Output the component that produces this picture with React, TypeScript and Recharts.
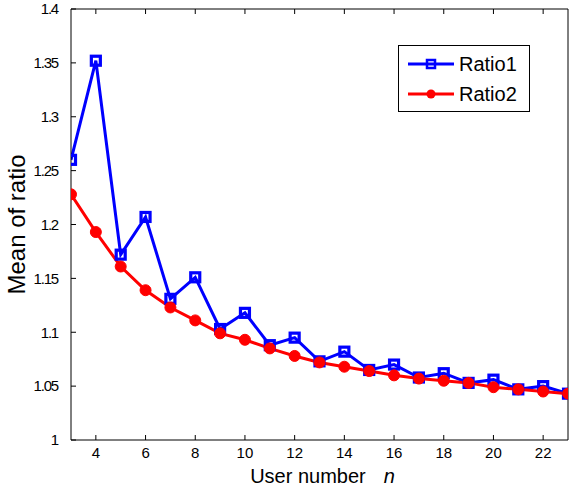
import React from 'react';
import { LineChart, Line, XAxis, YAxis, Legend, Label } from 'recharts';

// user count n
const users = [3, 4, 5, 6, 7, 8, 9, 10, 11, 12, 13, 14, 15, 16, 17, 18, 19, 20, 21, 22, 23];
const ratio1 = [
  1.26, 1.352, 1.172, 1.207, 1.131, 1.151, 1.103, 1.118, 1.088, 1.095, 1.073,
  1.082, 1.065, 1.07, 1.058, 1.062, 1.053, 1.056, 1.047, 1.05, 1.043,
];
const ratio2 = [
  1.228, 1.193, 1.161, 1.139, 1.123, 1.111, 1.099, 1.093, 1.085, 1.078, 1.072,
  1.068, 1.064, 1.06, 1.057, 1.055, 1.053, 1.049, 1.047, 1.045, 1.043,
];
const xTicks = [4, 6, 8, 10, 12, 14, 16, 18, 20, 22];
const yTicks = [1, 1.05, 1.1, 1.15, 1.2, 1.25, 1.3, 1.35, 1.4];

const BLUE = '#0000ff';
const RED = '#ff0000';
const FONT = '"Liberation Sans", Arial, sans-serif';

const data = users.map((n, i) => ({ n, ratio1: ratio1[i], ratio2: ratio2[i] }));

const fmt = (v: number) => String(+v.toFixed(2));

function SquareDot(props: any) {
  const { cx, cy } = props;
  if (cx == null || cy == null) return null;
  return <rect x={cx - 4.5} y={cy - 4.5} width={9} height={9} fill="none" stroke={BLUE} strokeWidth={3.2} />;
}

function CircleDot(props: any) {
  const { cx, cy } = props;
  if (cx == null || cy == null) return null;
  return <circle cx={cx} cy={cy} r={5.5} fill={RED} stroke={RED} strokeWidth={1} />;
}

function LegendBox() {
  const rows = [
    { name: 'Ratio1', color: BLUE, square: true },
    { name: 'Ratio2', color: RED, square: false },
  ];
  return (
    <div
      style={{
        border: '1px solid #000',
        background: '#fff',
        width: 132,
        height: 67,
        boxSizing: 'border-box',
        padding: '3px 0 0 9px',
        fontFamily: FONT,
        fontSize: 20,
        lineHeight: 1,
      }}
    >
      {rows.map((r) => (
        <div key={r.name} style={{ display: 'flex', alignItems: 'center', height: 30 }}>
          <svg width={46} height={14} style={{ marginRight: 5 }}>
            <line x1={0} y1={7} x2={46} y2={7} stroke={r.color} strokeWidth={3} />
            {r.square ? (
              <rect x={19} y={3} width={8} height={8} fill="none" stroke={r.color} strokeWidth={2.5} />
            ) : (
              <circle cx={23} cy={7} r={4.5} fill={r.color} />
            )}
          </svg>
          <span>{r.name}</span>
        </div>
      ))}
    </div>
  );
}

export default function App() {
  return (
    <div style={{ position: 'absolute', left: 0, top: 0, background: '#fff' }}>
      <LineChart width={570} height={493} data={data} margin={{ top: 8, right: 1, left: 0, bottom: 0 }}>
        <XAxis
          dataKey="n"
          type="number"
          domain={[3, 23]}
          ticks={xTicks}
          allowDataOverflow
          stroke="#000"
          tickSize={-5}
          tickMargin={12}
          height={53}
          tick={{ fill: '#000', fontSize: 15, fontFamily: FONT }}
        >
          <Label
            content={({ viewBox }: any) => (
              <text
                x={viewBox.x + viewBox.width / 2 + 3}
                y={viewBox.y + 43}
                textAnchor="middle"
                fontFamily={FONT}
                fontSize={20}
                fill="#000"
              >
                User number
                <tspan dx={18} fontStyle="italic">n</tspan>
              </text>
            )}
          />
        </XAxis>
        <XAxis
          xAxisId="top"
          orientation="top"
          dataKey="n"
          type="number"
          domain={[3, 23]}
          ticks={xTicks}
          stroke="#000"
          tickSize={-5}
          height={1}
          tickFormatter={() => ''}
        />
        <YAxis
          type="number"
          domain={[1, 1.4]}
          ticks={yTicks}
          allowDataOverflow
          stroke="#000"
          tickSize={-5}
          tickMargin={18}
          width={71}
          tickFormatter={fmt}
          tick={{ fill: '#000', fontSize: 15, fontFamily: FONT, letterSpacing: -1.2 }}
        >
          <Label
            content={({ viewBox }: any) => {
              const cx = 25;
              const cy = viewBox.y + viewBox.height / 2;
              return (
                <text
                  x={cx}
                  y={cy}
                  transform={`rotate(-90 ${cx} ${cy})`}
                  textAnchor="middle"
                  fontFamily={FONT}
                  fontSize={24}
                  fill="#000"
                >
                  Mean of ratio
                </text>
              );
            }}
          />
        </YAxis>
        <YAxis
          yAxisId="right"
          orientation="right"
          type="number"
          domain={[1, 1.4]}
          ticks={yTicks}
          stroke="#000"
          tickSize={-5}
          width={1}
          tickFormatter={() => ''}
        />
        <Legend
          layout="vertical"
          align="center"
          verticalAlign="middle"
          content={() => <LegendBox />}
          wrapperStyle={{ position: 'absolute', left: 398, top: 45, width: 132 }}
        />
        <Line
          dataKey="ratio1"
          name="Ratio1"
          stroke={BLUE}
          strokeWidth={3}
          dot={<SquareDot />}
          activeDot={false}
          isAnimationActive={false}
        />
        <Line
          dataKey="ratio2"
          name="Ratio2"
          stroke={RED}
          strokeWidth={3}
          dot={<CircleDot />}
          activeDot={false}
          isAnimationActive={false}
        />
      </LineChart>
    </div>
  );
}
